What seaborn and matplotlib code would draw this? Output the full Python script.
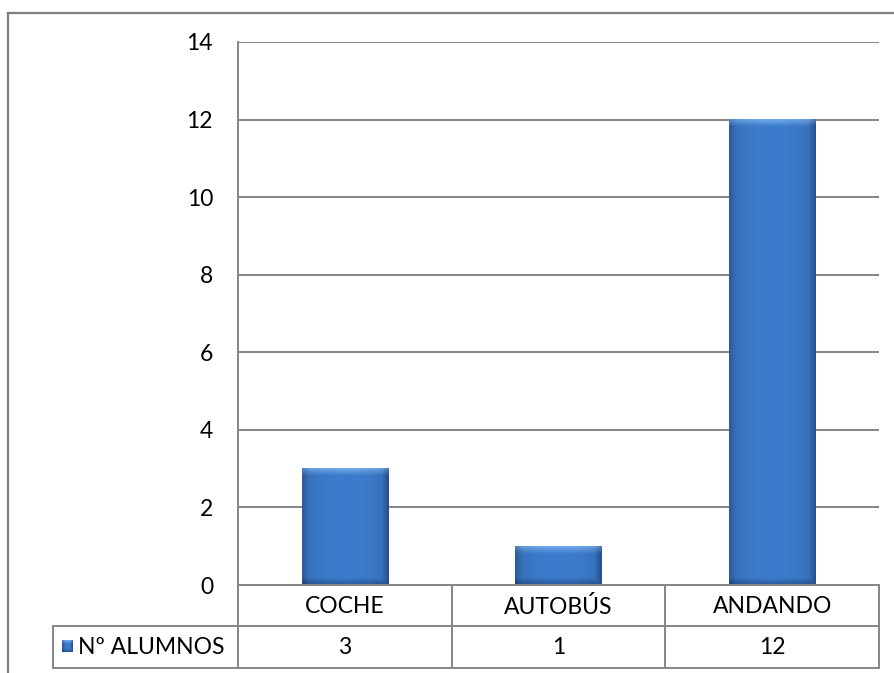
import numpy as np
import pandas as pd
import matplotlib
matplotlib.use("Agg")
import matplotlib.pyplot as plt
from matplotlib.lines import Line2D
import seaborn as sns

# Datos
categorias = ["COCHE", "AUTOBÚS", "ANDANDO"]
alumnos = [3, 1, 12]
serie = "Nº ALUMNOS"
ticks_y = [0, 2, 4, 6, 8, 10, 12, 14]

sns.set_theme(style="white")
plt.rcParams["font.family"] = ["Lato", "DejaVu Sans"]

W, H = 894, 673
fig = plt.figure(figsize=(W / 100, H / 100), dpi=100)

GRID = "#868686"
FS = 16.5

# Área de trazado (en píxeles)
px_left, px_right, px_top, px_bottom = 238, 879, 42, 585
ax = fig.add_axes([px_left / W, 1 - px_bottom / H,
                   (px_right - px_left) / W, (px_bottom - px_top) / H])

df = pd.DataFrame({"medio": categorias, "n": alumnos})
sns.barplot(data=df, x="medio", y="n", color="#3B78C8", width=0.405,
            saturation=1, ax=ax, zorder=3)

ax.set_xlim(-0.5, len(categorias) - 0.5)
ax.set_ylim(ticks_y[0], ticks_y[-1])
ax.set_yticks(ticks_y)
ax.set_yticklabels([str(t) for t in ticks_y], fontsize=FS, color="#000000")
ax.tick_params(axis="y", length=0, pad=18)
ax.set_xticks([])
ax.set_xlabel("")
ax.set_ylabel("")
ax.yaxis.grid(True, color=GRID, linewidth=1.4, zorder=0)
ax.set_axisbelow(True)
for s in ["top", "right", "bottom"]:
    ax.spines[s].set_visible(False)
ax.spines["left"].set_color(GRID)
ax.spines["left"].set_linewidth(1.4)


def bevel_image(wpx, hpx, b=7.0):
    """Relleno con degradado y bisel para cada barra."""
    wpx, hpx = max(int(wpx), 2), max(int(hpx), 2)
    base = np.array([0x3D, 0x7C, 0xCD]) / 255.0
    light = np.array([0x74, 0xAE, 0xF0]) / 255.0
    dark = np.array([0x25, 0x52, 0x92]) / 255.0
    img = np.tile(base, (hpx, wpx, 1)).astype(float)
    xs = np.arange(wpx)
    ys = np.arange(hpx)
    X, Y = np.meshgrid(xs, ys)
    top = np.clip(1 - Y / b, 0, 1)
    right = np.clip(1 - (wpx - 1 - X) / b, 0, 1)
    bottom = np.clip(1 - (hpx - 1 - Y) / b, 0, 1)
    left = np.clip(1 - X / b, 0, 1)
    for c in range(3):
        ch = img[:, :, c]
        ch = ch + (light[c] - base[c]) * top * 0.9
        ch = ch + (dark[c] - base[c]) * np.maximum(right, bottom) * 0.8
        ch = ch + (dark[c] - base[c]) * left * 0.5
        img[:, :, c] = ch
    # degradado horizontal suave
    prof = 1 - 0.12 * ((xs - wpx / 2) / (wpx / 2)) ** 2
    img *= prof[None, :, None]
    return np.clip(img, 0, 1)


fig.canvas.draw()
for p in list(ax.patches):
    x0, y0 = p.get_x(), p.get_y()
    w, h = p.get_width(), p.get_height()
    (dx0, dy0), (dx1, dy1) = ax.transData.transform([(x0, y0), (x0 + w, y0 + h)])
    img = bevel_image(abs(dx1 - dx0), abs(dy1 - dy0))
    p.set_facecolor("none")
    p.set_edgecolor("none")
    ax.imshow(img, extent=[x0, x0 + w, y0, y0 + h], aspect="auto",
              interpolation="bilinear", zorder=3)
ax.set_xlim(-0.5, len(categorias) - 0.5)
ax.set_ylim(ticks_y[0], ticks_y[-1])

# Capa para el marco y la tabla de datos (coordenadas en píxeles)
ov = fig.add_axes([0, 0, 1, 1], zorder=5)
ov.set_xlim(0, W)
ov.set_ylim(H, 0)
ov.axis("off")
ov.patch.set_alpha(0)


def seg(x0, y0, x1, y1, color=GRID, lw=1.4):
    ov.add_line(Line2D([x0, x1], [y0, y1], color=color, linewidth=lw,
                       solid_capstyle="projecting"))


# Marco exterior del gráfico
seg(8, 13, W, 13, color="#7F7F7F", lw=1.6)
seg(8, 13, 8, H, color="#7F7F7F", lw=1.6)

# Tabla de datos
tab_left = 53
row0, row1, row2 = px_bottom, 626, 668
n = len(categorias)
cols = [px_left + (px_right - px_left) * i / n for i in range(n + 1)]
seg(px_left, row0, px_right, row0)
seg(tab_left, row1, px_right, row1)
seg(tab_left, row2, px_right, row2)
seg(tab_left, row1, tab_left, row2)
for cx in cols:
    seg(cx, row0, cx, row2)

for i, (cat, val) in enumerate(zip(categorias, alumnos)):
    xc = (cols[i] + cols[i + 1]) / 2
    ov.text(xc, (row0 + row1) / 2 + 1, cat, ha="center", va="center",
            fontsize=FS, color="#000000")
    ov.text(xc, (row1 + row2) / 2 + 1, str(val), ha="center", va="center",
            fontsize=FS, color="#000000")

# Clave de la leyenda y nombre de la serie
key = bevel_image(11, 12, b=3.0)
ov.imshow(key, extent=[62, 73, 652, 640], aspect="auto", zorder=6)
ov.set_xlim(0, W)
ov.set_ylim(H, 0)
ov.text(78, (row1 + row2) / 2 + 1, serie, ha="left", va="center",
        fontsize=FS, color="#000000")

fig.savefig("out.png", dpi=100, facecolor="white")
